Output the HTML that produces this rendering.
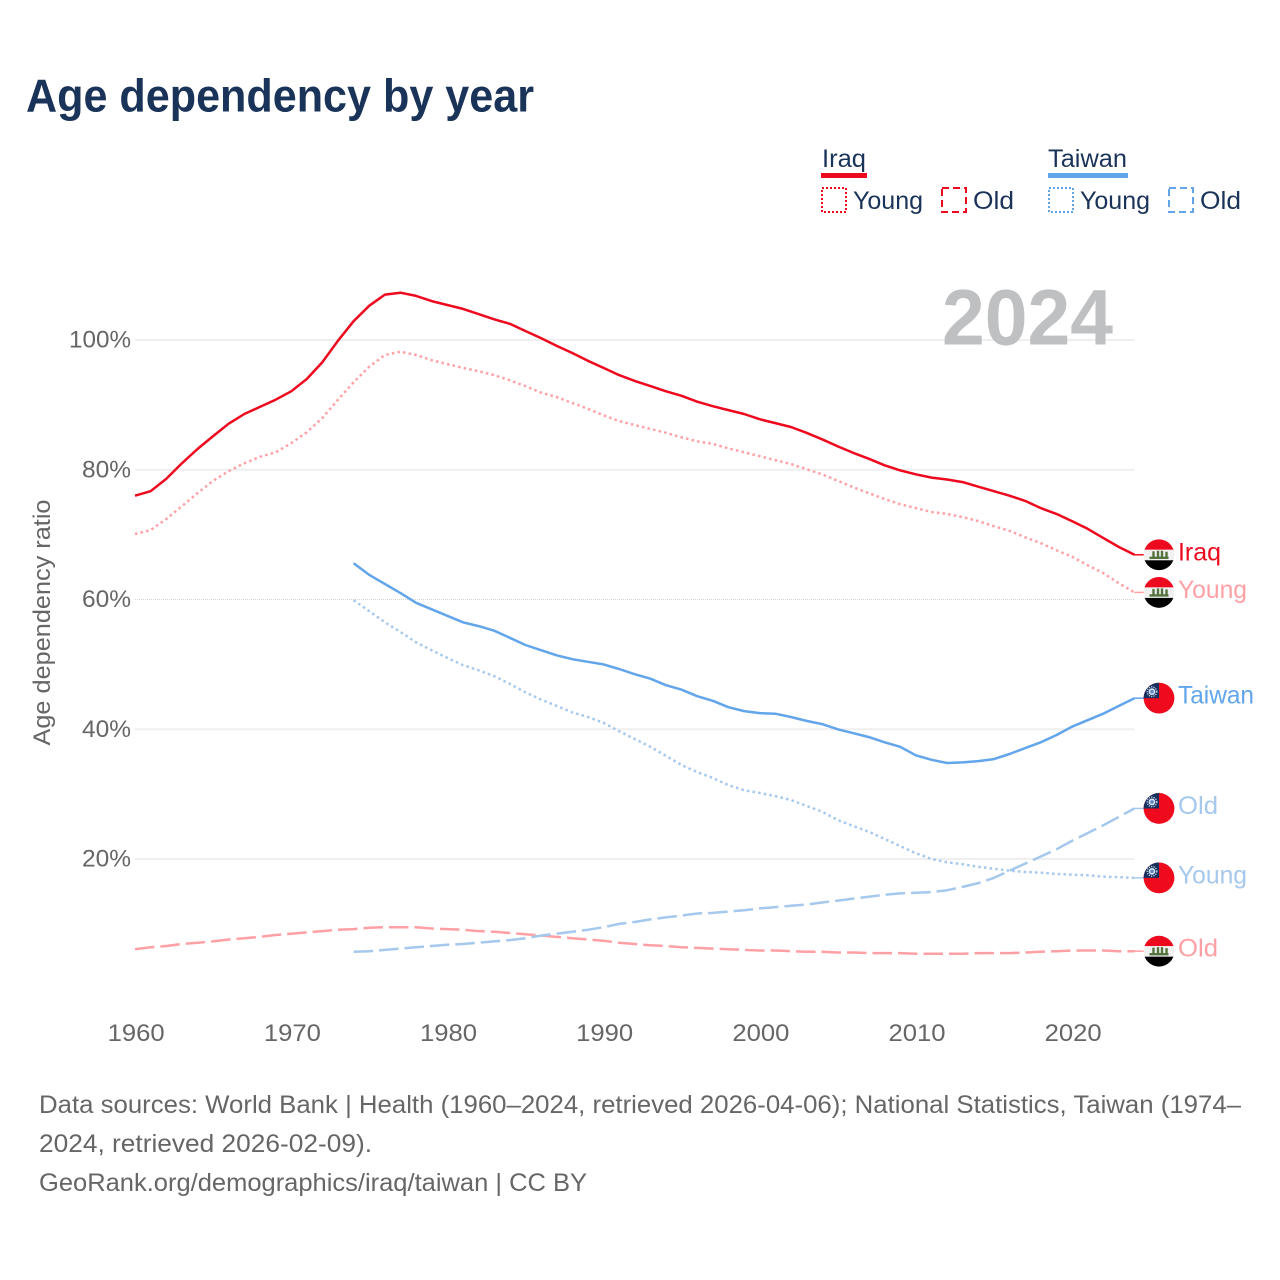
<!DOCTYPE html>
<html lang="en">
<head>
<meta charset="utf-8">
<title>Age dependency by year</title>
<style>
html,body{margin:0;padding:0;background:#fff}
svg{display:block}
text{font-family:"Liberation Sans",sans-serif}
</style>
</head>
<body>
<svg id="chart" width="1280" height="1280" viewBox="0 0 1280 1280" xmlns="http://www.w3.org/2000/svg">
<defs>
<clipPath id="flag-clip"><circle cx="0" cy="0" r="15.4"/></clipPath>
</defs>
<rect width="1280" height="1280" fill="#fff"/>
<text x="26" y="111.5" font-size="46" font-weight="700" fill="#1a3358" textLength="508" lengthAdjust="spacingAndGlyphs">Age dependency by year</text>

<g font-size="25" fill="#1a3358">
<text x="822" y="167" textLength="44" lengthAdjust="spacingAndGlyphs">Iraq</text>
<rect x="821" y="173" width="46" height="5" fill="#ed0a1e"/>
<rect x="822" y="188" width="24" height="24" fill="none" stroke="#ed0a1e" stroke-width="2" stroke-dasharray="2 2"/>
<text x="853" y="209" textLength="70" lengthAdjust="spacingAndGlyphs">Young</text>
<rect x="942" y="188" width="24" height="24" fill="none" stroke="#ed0a1e" stroke-width="2" stroke-dasharray="7 4"/>
<text x="973" y="209" textLength="41" lengthAdjust="spacingAndGlyphs">Old</text>
<text x="1048" y="167" textLength="79" lengthAdjust="spacingAndGlyphs">Taiwan</text>
<rect x="1048" y="173" width="80" height="5" fill="#62a5ea"/>
<rect x="1049" y="188" width="24" height="24" fill="none" stroke="#62a5ea" stroke-width="2" stroke-dasharray="2 2"/>
<text x="1080" y="209" textLength="70" lengthAdjust="spacingAndGlyphs">Young</text>
<rect x="1169" y="188" width="24" height="24" fill="none" stroke="#62a5ea" stroke-width="2" stroke-dasharray="7 4"/>
<text x="1200" y="209" textLength="41" lengthAdjust="spacingAndGlyphs">Old</text>
</g>

<g id="grid"></g>
<g id="yticks"></g>
<g id="xticks"></g>
<text transform="translate(50,622.5) rotate(-90)" text-anchor="middle" font-size="24" fill="#666" textLength="246" lengthAdjust="spacingAndGlyphs">Age dependency ratio</text>
<text x="942" y="344.5" font-size="79" font-weight="700" fill="#bfc0c2" textLength="171" lengthAdjust="spacingAndGlyphs">2024</text>
<g id="series"></g>
<g id="end-labels"></g>

<g font-size="25" fill="#666">
<text x="39" y="1113" textLength="1202" lengthAdjust="spacingAndGlyphs">Data sources: World Bank | Health (1960–2024, retrieved 2026-04-06); National Statistics, Taiwan (1974–</text>
<text x="39" y="1152" textLength="333" lengthAdjust="spacingAndGlyphs">2024, retrieved 2026-02-09).</text>
<text x="39" y="1191" textLength="548" lengthAdjust="spacingAndGlyphs">GeoRank.org/demographics/iraq/taiwan | CC BY</text>
</g>
</svg>
<script>
const yTickValues = [20, 40, 60, 80, 100];
const xTickYears = [1960, 1970, 1980, 1990, 2000, 2010, 2020];
const iraqStartYear = 1960;
const taiwanStartYear = 1974;
const iraqTotal = [76.0,76.7,78.6,81.0,83.2,85.2,87.1,88.6,89.7,90.8,92.1,94.0,96.6,99.9,102.9,105.3,107.0,107.3,106.8,106.0,105.4,104.8,104.0,103.2,102.5,101.4,100.3,99.1,98.0,96.8,95.7,94.6,93.7,92.9,92.1,91.4,90.5,89.8,89.2,88.6,87.8,87.2,86.6,85.7,84.7,83.6,82.6,81.7,80.7,79.9,79.3,78.8,78.5,78.1,77.4,76.7,76.0,75.2,74.1,73.2,72.1,70.9,69.5,68.1,66.9];
const iraqYoung = [70.1,70.7,72.4,74.4,76.4,78.3,79.8,81.0,82.0,82.7,84.1,85.8,88.0,90.8,93.5,95.9,97.7,98.2,97.7,96.9,96.3,95.7,95.2,94.6,93.8,92.9,91.9,91.2,90.3,89.4,88.4,87.5,86.9,86.3,85.7,85.0,84.4,84.0,83.3,82.7,82.1,81.5,80.9,80.1,79.3,78.3,77.3,76.4,75.5,74.7,74.1,73.5,73.2,72.7,72.1,71.3,70.6,69.6,68.7,67.6,66.6,65.3,64.1,62.5,61.1];
const iraqOld = [6.1,6.4,6.6,6.9,7.1,7.3,7.6,7.8,8.0,8.3,8.5,8.7,8.9,9.1,9.2,9.4,9.5,9.5,9.5,9.3,9.2,9.1,8.9,8.8,8.6,8.4,8.2,8.0,7.8,7.6,7.4,7.1,6.9,6.7,6.6,6.4,6.3,6.2,6.1,6.0,5.9,5.9,5.8,5.7,5.7,5.6,5.6,5.5,5.5,5.5,5.4,5.4,5.4,5.4,5.5,5.5,5.5,5.6,5.7,5.8,5.9,5.9,5.9,5.8,5.8];
const taiwanTotal = [65.6,63.8,62.4,61.0,59.5,58.5,57.5,56.5,55.9,55.2,54.1,53.0,52.2,51.4,50.8,50.4,50.0,49.3,48.5,47.8,46.8,46.1,45.1,44.4,43.4,42.8,42.5,42.4,41.9,41.3,40.8,40.0,39.4,38.8,38.0,37.3,36.0,35.3,34.8,34.9,35.1,35.4,36.2,37.1,38.0,39.1,40.4,41.4,42.4,43.6,44.8];
const taiwanYoung = [59.9,58.2,56.5,55.0,53.4,52.2,51.0,49.9,49.1,48.2,47.0,45.7,44.6,43.6,42.6,41.9,41.0,39.7,38.5,37.3,35.9,34.5,33.4,32.5,31.4,30.6,30.2,29.7,29.1,28.2,27.3,26.0,25.1,24.2,23.1,22.0,20.9,20.0,19.5,19.2,18.8,18.5,18.2,18.0,17.9,17.7,17.6,17.5,17.3,17.2,17.1];
const taiwanOld = [5.7,5.8,6.0,6.2,6.4,6.6,6.8,6.9,7.1,7.3,7.5,7.8,8.2,8.5,8.8,9.1,9.5,10.0,10.3,10.7,11.0,11.3,11.6,11.7,11.9,12.1,12.4,12.6,12.8,13.0,13.3,13.6,13.9,14.2,14.5,14.7,14.8,14.9,15.2,15.7,16.3,17.1,18.2,19.3,20.4,21.5,22.8,24.0,25.2,26.5,27.8];

const NS = 'http://www.w3.org/2000/svg';
const xScale = year => 135 + (year - 1960) * 15.6167;
const yScale = value => 988.8 - value * 6.4875;
const endX = xScale(2024);

function make(tag, parent, attrs) {
  const el = document.createElementNS(NS, tag);
  for (const key in attrs) el.setAttribute(key, attrs[key]);
  parent.appendChild(el);
  return el;
}

const gridGroup = document.getElementById('grid');
const yTickGroup = document.getElementById('yticks');
yTickValues.forEach(value => {
  const isDotted = value === 60;
  const line = make('line', gridGroup, {
    x1: 135, x2: endX, y1: yScale(value), y2: yScale(value),
    stroke: isDotted ? '#d4d4d4' : '#efefef',
    'stroke-width': isDotted ? 1 : 2,
    'stroke-dasharray': isDotted ? '1 1' : 'none'
  });
  
  
  const label = make('text', yTickGroup, {
    x: 131, y: yScale(value) + 7.5, 'text-anchor': 'end', 'font-size': 24, fill: '#666',
    textLength: value === 100 ? 62 : 49, lengthAdjust: 'spacingAndGlyphs'
  });
  
  
  label.textContent = value + '%';
});

const xTickGroup = document.getElementById('xticks');
xTickYears.forEach(year => {
  const label = make('text', xTickGroup, {
    x: xScale(year) + 1.2, y: 1041, 'text-anchor': 'middle', 'font-size': 24, fill: '#666',
    textLength: 57, lengthAdjust: 'spacingAndGlyphs'
  });
  
  
  label.textContent = String(year);
});

const RED = '#ed0a1e', RED_LIGHT = '#ffa0a5', BLUE = '#62a5ea', BLUE_LIGHT = '#a5c8ec';
const DOT = '2.5 3.2', DASH = '19.5 6';
const seriesList = [
  { id: 'iraq-old', values: iraqOld, start: iraqStartYear, color: RED_LIGHT, dash: DASH, label: 'Old', flag: 'iraq', width: 40 },
  { id: 'taiwan-old', values: taiwanOld, start: taiwanStartYear, color: BLUE_LIGHT, dash: DASH, label: 'Old', flag: 'taiwan', width: 40 },
  { id: 'iraq-young', values: iraqYoung, start: iraqStartYear, color: RED_LIGHT, dash: DOT, label: 'Young', flag: 'iraq', width: 69 },
  { id: 'taiwan-young', values: taiwanYoung, start: taiwanStartYear, color: BLUE_LIGHT, dash: DOT, label: 'Young', flag: 'taiwan', width: 69 },
  { id: 'taiwan-total', values: taiwanTotal, start: taiwanStartYear, color: BLUE, dash: 'none', label: 'Taiwan', flag: 'taiwan', width: 76 },
  { id: 'iraq-total', values: iraqTotal, start: iraqStartYear, color: RED, dash: 'none', label: 'Iraq', flag: 'iraq', width: 43 }
];

const seriesGroup = document.getElementById('series');
const endGroup = document.getElementById('end-labels');

function drawFlag(parent, kind, cy) {
  const g = make('g', parent, { transform: 'translate(1159,' + cy + ')', 'clip-path': 'url(#flag-clip)' });
  
  
  if (kind === 'iraq') {
    make('rect', g, { x: -16, y: -16, width: 32, height: 11, fill: '#ed0a1e' });
    make('rect', g, { x: -16, y: -5, width: 32, height: 10.5, fill: '#f1f1f1' });
    make('rect', g, { x: -16, y: 5.5, width: 32, height: 11, fill: '#000' });
    make('path', g, { d: 'M-9.5 3H9.5M-5.5 3V-3.5M-1 3V-4M3 3V-4M7.5 3V-3', stroke: '#55733f', 'stroke-width': 2.4, fill: 'none' });
  } else {
    make('rect', g, { x: -16, y: -16, width: 32, height: 32, fill: '#ef0a1e' });
    make('rect', g, { x: -16, y: -16, width: 16, height: 16, fill: '#16305e' });
    make('circle', g, { cx: -7, cy: -6.5, r: 2.6, fill: '#5f86bd', stroke: '#d6e4f6', 'stroke-width': 1.6 });
    make('circle', g, { cx: -7, cy: -6.5, r: 4.8, fill: 'none', stroke: '#cfe0f5', 'stroke-width': 1.3, 'stroke-dasharray': '1.2 1.2' });
  }
}

seriesList.forEach(series => {
  const points = series.values.map((value, i) => xScale(series.start + i).toFixed(1) + ',' + yScale(value).toFixed(1));
  const last = yScale(series.values[series.values.length - 1]);
  const line = make('polyline', seriesGroup, {
    points: points.join(' '), fill: 'none', stroke: series.color, 'stroke-width': 2.5,
    'stroke-linejoin': 'round', 'stroke-dasharray': series.dash
  });
  
  
  const connector = make('line', endGroup, {
    x1: endX, x2: 1146, y1: last, y2: last, stroke: series.color, 'stroke-width': 1.5
  });
  
  
  drawFlag(endGroup, series.flag, last);
  const label = make('text', endGroup, {
    x: 1178, y: last + 5.5, 'font-size': 25, fill: series.color,
    textLength: series.width, lengthAdjust: 'spacingAndGlyphs'
  });
  
  
  label.textContent = series.label;
});
</script>
</body>
</html>
